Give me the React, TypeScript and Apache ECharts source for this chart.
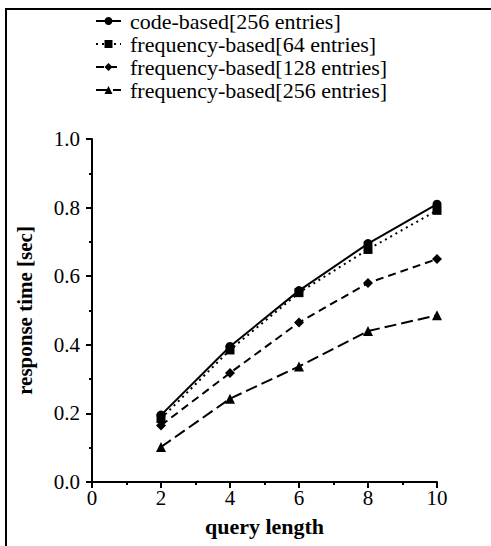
import React, { useEffect, useRef } from "react";
import * as echarts from "echarts";

const xValues = [2, 4, 6, 8, 10];
const seriesNames = [
  "code-based[256 entries]",
  "frequency-based[64 entries]",
  "frequency-based[128 entries]",
  "frequency-based[256 entries]",
];
const codeBased256 = [0.195, 0.395, 0.558, 0.695, 0.81];
const freqBased64 = [0.185, 0.385, 0.552, 0.678, 0.792];
const freqBased128 = [0.165, 0.318, 0.465, 0.58, 0.65];
const freqBased256 = [0.102, 0.243, 0.337, 0.44, 0.486];

const FONT = "Liberation Serif";

export default function App() {
  const ref = useRef<HTMLDivElement>(null);
  useEffect(() => {
    if (!ref.current) return;
    const chart = echarts.init(ref.current, null, { renderer: "svg" });
    const mk = (vals: number[]) => xValues.map((x, i) => [x, vals[i]]);
    const specs = [
      { data: codeBased256, symbol: "circle", size: 9, type: "solid" as any, width: 2 },
      { data: freqBased64, symbol: "rect", size: 9, type: [2, 4] as any, width: 2 },
      { data: freqBased128, symbol: "diamond", size: 10, type: [8, 5] as any, width: 2 },
      { data: freqBased256, symbol: "triangle", size: 10, type: [12, 5] as any, width: 2 },
    ];
    chart.setOption({
      animation: false,
      backgroundColor: "#fff",
      textStyle: { fontFamily: FONT, color: "#000" },
      legend: {
        orient: "vertical",
        left: 90,
        top: 5,
        itemWidth: 25,
        itemHeight: 10,
        itemGap: 1,
        data: seriesNames,
        textStyle: {
          fontFamily: FONT,
          fontSize: 22,
          lineHeight: 22,
          color: "#000",
          padding: [0, 0, 0, 4],
        },
      },
      grid: { left: 92, right: 54, top: 139, bottom: 64, containLabel: false },
      xAxis: {
        type: "value",
        min: 0,
        max: 10,
        interval: 2,
        name: "query length",
        nameLocation: "middle",
        nameGap: 33,
        nameTextStyle: { fontFamily: FONT, fontSize: 22, fontWeight: "bold", color: "#000" },
        axisLine: { show: true, onZero: false, lineStyle: { color: "#000", width: 2 } },
        axisTick: { show: true, length: 6, lineStyle: { color: "#000", width: 2 } },
        minorTick: { show: true, splitNumber: 2, length: 3, lineStyle: { color: "#000", width: 2 } },
        splitLine: { show: false },
        axisLabel: { fontFamily: FONT, fontSize: 21, color: "#000", margin: 5 },
      },
      yAxis: {
        type: "value",
        min: 0,
        max: 1,
        interval: 0.2,
        name: "response time [sec]",
        nameLocation: "middle",
        nameGap: 57,
        nameTextStyle: { fontFamily: FONT, fontSize: 21, fontWeight: "bold", color: "#000" },
        axisLine: { show: true, lineStyle: { color: "#000", width: 2 } },
        axisTick: { show: true, length: 6, lineStyle: { color: "#000", width: 2 } },
        minorTick: { show: true, splitNumber: 2, length: 3, lineStyle: { color: "#000", width: 2 } },
        splitLine: { show: false },
        axisLabel: {
          fontFamily: FONT,
          fontSize: 21,
          color: "#000",
          margin: 12,
          formatter: (v: number) => v.toFixed(1),
        },
      },
      graphic: [
        { type: "line", shape: { x1: 5, y1: 9, x2: 491, y2: 9 }, style: { stroke: "#000", lineWidth: 2 } },
        { type: "line", shape: { x1: 6, y1: 9, x2: 6, y2: 546 }, style: { stroke: "#000", lineWidth: 2 } },
      ],
      series: specs.map((s, i) => ({
        name: seriesNames[i],
        type: "line",
        data: mk(s.data),
        symbol: s.symbol,
        symbolSize: s.size,
        itemStyle: { color: "#000" },
        lineStyle: { color: "#000", width: s.width, type: s.type },
        z: 10 - i,
      })),
    });
    return () => chart.dispose();
  }, []);
  return <div ref={ref} style={{ width: 491, height: 546, position: "absolute", left: 0, top: 0 }} />;
}
